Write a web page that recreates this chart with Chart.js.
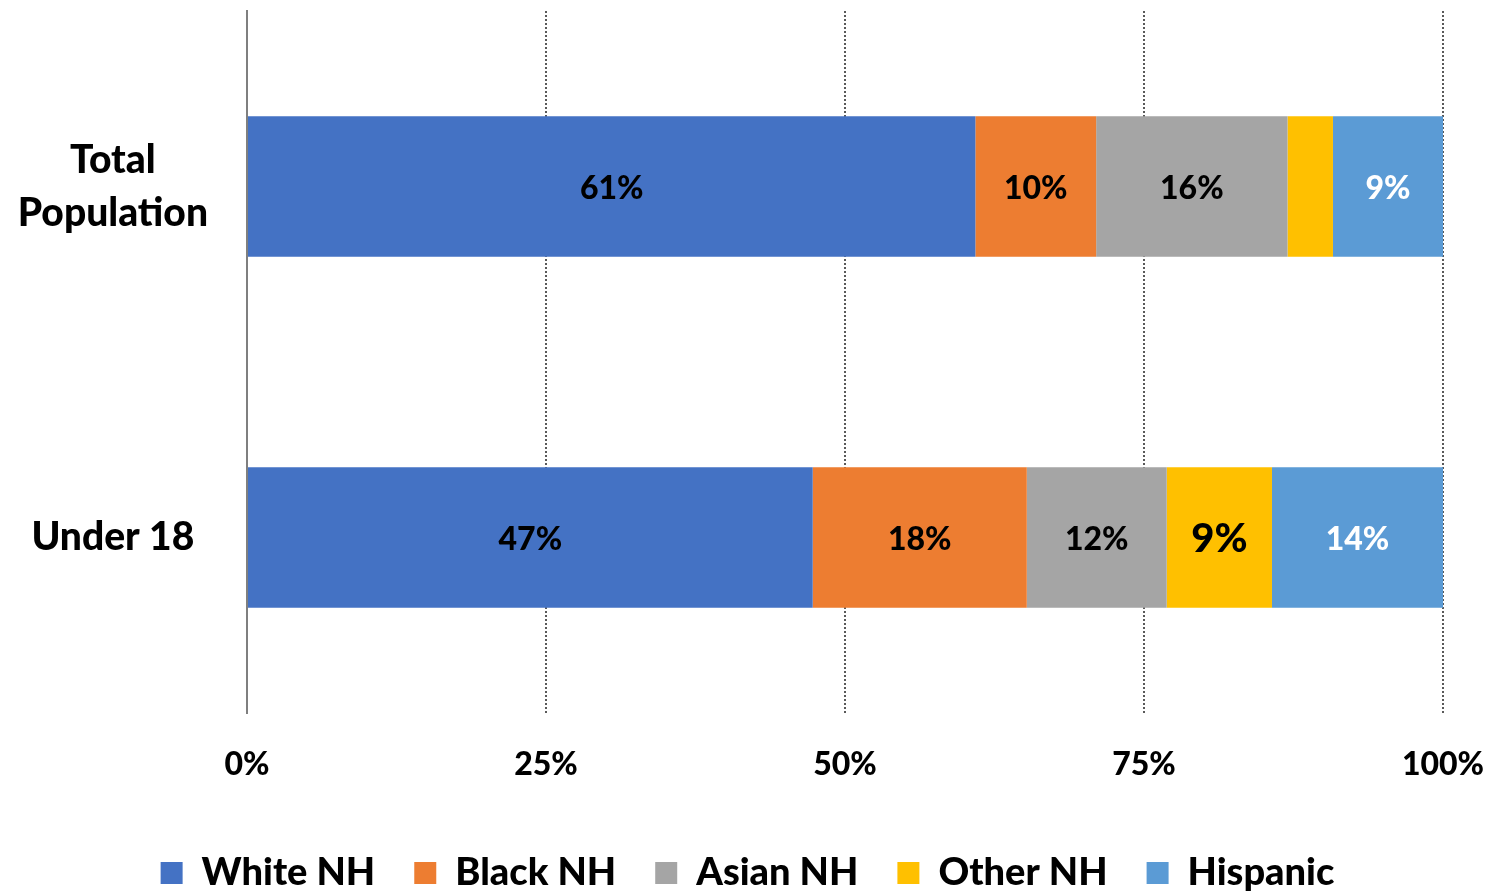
<!DOCTYPE html>
<html>
<head>
<meta charset="utf-8">
<script src="https://cdn.jsdelivr.net/npm/chart.js@4"></script>
<style>
  html, body { margin: 0; padding: 0; background: #fff; }
  #box { width: 1495px; height: 894px; }
</style>
</head>
<body>
<div id="box"><canvas id="barra_composicao"></canvas></div>
<script>
/* grafico de barras empilhadas: composicao da populacao por grupo */

const categorias = [['Total', 'Population'], 'Under 18'];

const white_nh = [60.9, 47.3];
const black_nh = [10.1, 17.9];
const asian_nh = [16.0, 11.7];
const other_nh = [3.8, 8.8];
const hispanic = [9.2, 14.3];

const ticks_x = [0, 25, 50, 75, 100];

const fonte = 'Lato, "Open Sans", sans-serif';

const data_barra_composicao = {
    labels: categorias,
    datasets: [
        { label: 'White NH', backgroundColor: '#4472C4', data: white_nh, corLabel: '#000' },
        { label: 'Black NH', backgroundColor: '#ED7D31', data: black_nh, corLabel: '#000' },
        { label: 'Asian NH', backgroundColor: '#A5A5A5', data: asian_nh, corLabel: '#000' },
        { label: 'Other NH', backgroundColor: '#FFC000', data: other_nh, corLabel: '#000' },
        { label: 'Hispanic', backgroundColor: '#5B9BD5', data: hispanic, corLabel: '#fff' }
    ]
};

// rotulos dentro das barras
const plugin_rotulos = {
    id: 'rotulos',
    afterDatasetsDraw(chart) {
        const ctx = chart.ctx;
        ctx.save();
        ctx.textAlign = 'center';
        ctx.textBaseline = 'middle';
        chart.data.datasets.forEach((ds, i) => {
            const meta = chart.getDatasetMeta(i);
            meta.data.forEach((bar, j) => {
                const v = ds.data[j];
                if (v < 5) return;
                const grande = ds.label === 'Other NH';
                ctx.font = '900 ' + (grande ? 40 : 32) + 'px ' + fonte;
                ctx.fillStyle = ds.corLabel;
                ctx.fillText(Math.round(v) + '%', (bar.x + bar.base) / 2, bar.y + 2);
            });
        });
        ctx.restore();
    }
};

// altura fixa da legenda
const plugin_legenda = {
    id: 'alturaLegenda',
    beforeLayout(chart) {
        const leg = chart.legend;
        if (leg && !leg._patched) {
            const fit = leg.fit;
            leg.fit = function () {
                fit.call(this);
                this.height = 79;
            };
            leg._patched = true;
        }
    }
};

const config_barra_composicao = {
    type: 'bar',
    data: data_barra_composicao,
    options: {
        indexAxis: 'y',
        responsive: true,
        maintainAspectRatio: false,
        animation: false,
        layout: { padding: { top: 11, right: 0, left: 0, bottom: 0 } },
        datasets: {
            bar: { categoryPercentage: 1, barPercentage: 0.4, borderWidth: 0 }
        },
        scales: {
            x: {
                stacked: true,
                min: 0,
                max: 100,
                afterBuildTicks(scale) {
                    scale.ticks = ticks_x.map(v => ({ value: v }));
                },
                afterFit(scale) {
                    scale.height = 102;
                    scale.paddingLeft = 0;
                    scale.paddingRight = 52;
                },
                ticks: {
                    callback: v => v + '%',
                    color: '#000',
                    padding: 32,
                    font: { family: fonte, size: 32, weight: '900' }
                },
                grid: {
                    drawTicks: false,
                    color: c => (c.index === 0 ? 'rgba(0,0,0,0)' : '#595959'),
                    lineWidth: 2
                },
                border: { display: false, dash: [2, 2] }
            },
            y: {
                stacked: true,
                afterFit(scale) {
                    scale.width = 247;
                    scale.paddingTop = 0;
                    scale.paddingBottom = 0;
                },
                ticks: {
                    color: '#000',
                    padding: 39,
                    crossAlign: 'center',
                    font: { family: fonte, size: 39, weight: '900', lineHeight: 1.36 }
                },
                grid: { display: false, drawTicks: false },
                border: { display: true, color: '#7F7F7F', width: 2 }
            }
        },
        plugins: {
            legend: {
                position: 'bottom',
                labels: {
                    color: '#000',
                    boxWidth: 22,
                    boxHeight: 22,
                    padding: 39,
                    font: { family: fonte, size: 38, weight: '900' }
                }
            },
            tooltip: { enabled: false }
        }
    },
    plugins: [plugin_rotulos, plugin_legenda]
};

const grafico_barra_composicao = new Chart(
    document.getElementById('barra_composicao'),
    config_barra_composicao
);
</script>
</body>
</html>
